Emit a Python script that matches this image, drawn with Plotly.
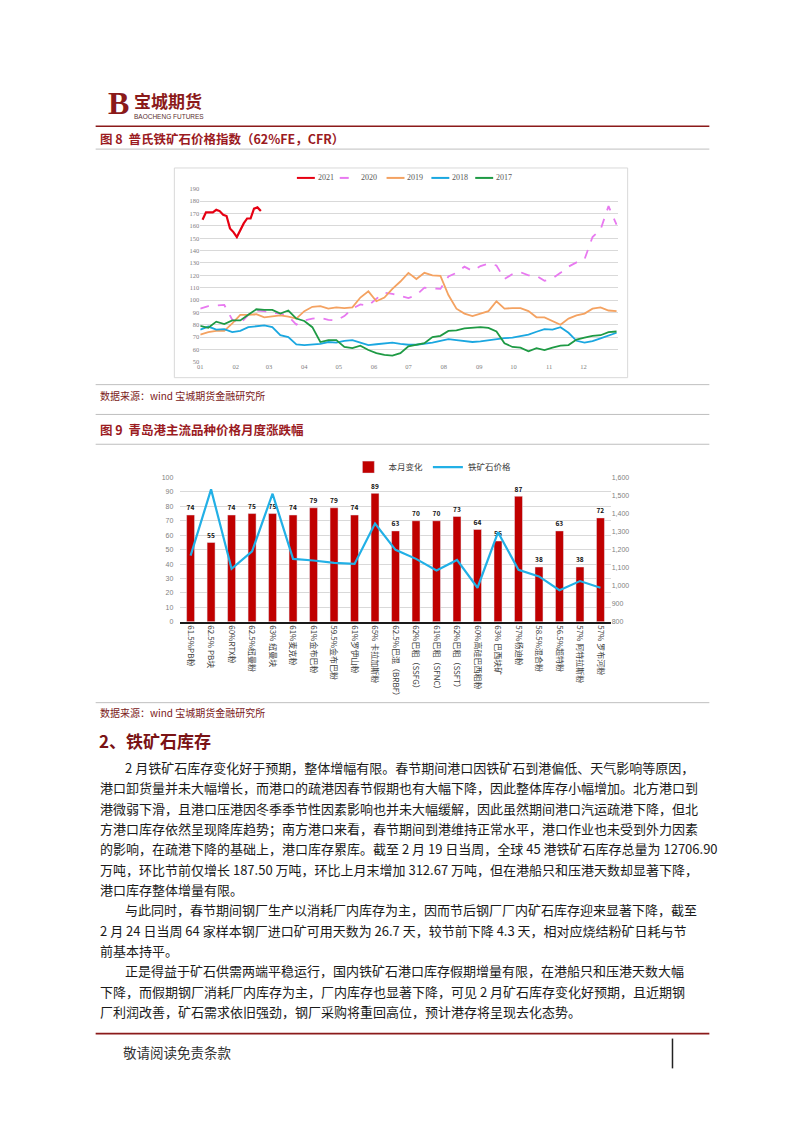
import plotly.graph_objects as go
import pandas as pd

W, H = 802, 1133


def px(x):
    return x / W


def py(y):
    return 1 - y / H


# ---------------- Chart 1 data (Platts 62% Fe index, by year) ----------------
week_dates = pd.date_range("2020-01-01", periods=53, freq="7D")
dates_2021 = pd.date_range("2020-01-03", periods=18, freq="3D")

s2021 = [165, 171, 171, 171, 173, 172, 169, 168, 158, 155, 151, 157, 162, 166, 166, 174, 175, 172]

s2020 = [93, 95, 95.5, 96, 84, 81, 88, 91.5, 91, 89.5, 89, 87, 80, 83.5, 85, 85.5, 84, 83.5,
         87, 93, 96.5, 95.5, 101, 106, 105, 103.5, 101.5, 104, 110, 109.5, 109, 119, 122, 127,
         123.5, 127.5, 129.5, 128, 117, 121, 122.5, 120, 119.5, 115.5, 117.5, 122, 127, 130.5,
         133, 151, 157, 176, 161]

s2019 = [72, 74, 75, 75, 81, 88, 88, 88.5, 86, 87, 87.5, 86.5, 85, 91, 94.5, 95, 93, 94,
         93.5, 94, 102, 107, 99, 102, 109, 115, 122, 117, 122, 120, 119.5, 104, 93, 89, 87,
         89, 91, 99, 93, 93.5, 93.5, 91, 86, 86, 83, 80, 85, 87.5, 89, 93, 94, 91.5, 91]

s2018 = [76, 78.5, 76, 76.5, 74, 75, 78, 78.5, 79.5, 78, 71.5, 70, 64, 63.5, 64, 64.5, 66,
         65.5, 67, 67.5, 65.5, 63.5, 64.2, 65, 65.5, 64.5, 63.8, 63.8, 64.5, 65.5, 67, 68.3,
         67.5, 66.6, 66, 66.5, 67.5, 68.5, 69.2, 69.5, 70.5, 72, 74.3, 76.5, 76, 78, 73.5, 67,
         65.5, 66.8, 69, 71.5, 73.5]

s2017 = [79, 77.5, 82.5, 80.5, 83.5, 83.5, 88, 92.5, 92, 92, 89, 91.5, 85, 83, 78, 66, 67.5,
         67.5, 62, 61, 63, 59.5, 57, 55.5, 55, 57, 62.5, 64, 65, 70, 71, 75, 75.5, 77, 77.5,
         78, 77.5, 74.5, 65, 62, 61.5, 58.5, 61, 59.5, 61.5, 63, 63.5, 68, 69.5, 71, 71.5, 74,
         74.5]

month_ticks = pd.date_range("2020-01-01", periods=12, freq="MS")
month_labels = ["01", "02", "03", "04", "05", "06", "07", "08", "09", "10", "11", "12"]

# ---------------- Chart 2 data (Qingdao port ore prices) ----------------
ore_names = ["61.5%PB粉", "62.5% PB块", "60%RTX粉", "62.5%纽曼粉", "63% 纽曼块", "61%麦克粉",
             "61%金布巴粉", "59.5%金布巴粉", "61%罗伊山粉", "65% 卡拉加斯粉", "62.5%巴混（BRBF）",
             "62%巴粗（SSFG）", "61%巴粗（SFNC）", "62%巴粗（SSFT）", "60%高硅巴西粗粉",
             "63% 巴西块矿", "57%杨迪粉", "58.5%混合粉", "56.5%超特粉", "57% 阿特拉斯粉",
             "57% 罗布河粉"]
monthly_change = [74, 55, 74, 75, 75, 74, 79, 79, 74, 89, 63, 70, 70, 73, 64, 56, 87, 38, 63, 38, 72]
ore_price = [1167, 1534, 1094, 1191, 1510, 1149, 1140, 1127, 1121, 1345, 1199, 1149, 1085,
             1143, 989, 1296, 1088, 1052, 975, 1026, 989]

RED_DARK = "#8B1A1A"
GRID = "#D9D9D9"
TICK = "#7F7F7F"
CJK = "Noto Sans CJK SC"

fig = go.Figure()

series = [
    ("2021", dates_2021, s2021, "#E60012", "solid", 2.2),
    ("2020", week_dates, s2020, "#E879F0", "dash", 1.8),
    ("2019", week_dates, s2019, "#F4A261", "solid", 1.8),
    ("2018", week_dates, s2018, "#1AA7E0", "solid", 1.8),
    ("2017", week_dates, s2017, "#1E9A44", "solid", 1.8),
]
for name, xs, ys, col, dash, w in series:
    fig.add_trace(go.Scatter(x=xs, y=ys, name=name, mode="lines",
                             line=dict(color=col, width=w, dash=dash),
                             xaxis="x", yaxis="y", showlegend=False))

fig.add_trace(go.Bar(x=ore_names, y=monthly_change, name="本月变化", marker_color="#C00000",
                     width=0.39, text=monthly_change, texttemplate="<b>%{y}</b>",
                     textposition="outside", textfont=dict(size=8, color="#111111"),
                     cliponaxis=False, xaxis="x2", yaxis="y2", legend="legend2"))
fig.add_trace(go.Scatter(x=ore_names, y=ore_price, name="铁矿石价格", mode="lines",
                         line=dict(color="#22B0E6", width=2.2),
                         xaxis="x2", yaxis="y3", legend="legend2"))

tickfont_small = dict(size=6.5, color=TICK, family="Liberation Serif")

fig.update_layout(
    width=W, height=H,
    margin=dict(l=0, r=0, t=0, b=0),
    paper_bgcolor="white", plot_bgcolor="white",
    font=dict(family=CJK),
    xaxis=dict(domain=[px(198), px(617)], anchor="y", type="date",
               range=["2020-01-01", "2020-12-31"], tickvals=month_ticks, ticktext=month_labels,
               tickfont=tickfont_small, showgrid=False, showline=False, ticks="", zeroline=False),
    yaxis=dict(domain=[py(360), py(186)], anchor="x", range=[50, 190], dtick=10,
               gridcolor=GRID, gridwidth=1, tickfont=tickfont_small, zeroline=False,
               showline=False, ticks=""),
    xaxis2=dict(domain=[px(178), px(610)], anchor="y2", type="category", tickangle=90,
                tickfont=dict(size=8, color="#404040", family=CJK), showline=True,
                linecolor="#1A1A1A", linewidth=1.5, ticks="", showgrid=False),
    yaxis2=dict(domain=[py(621.7), py(476.4)], anchor="x2", range=[0, 100], dtick=10,
                gridcolor=GRID, tickfont=dict(size=7, color=TICK, family="Liberation Sans"),
                zeroline=False, ticks="", ticklabelstandoff=6),
    yaxis3=dict(overlaying="y2", anchor="x2", side="right", range=[800, 1600], dtick=100,
                tickformat=",", showgrid=False, zeroline=False, ticks="",
                tickfont=dict(size=7, color=TICK, family="Liberation Sans")),
    legend2=dict(orientation="h", x=px(431), xanchor="center", y=py(466), yanchor="middle",
                 font=dict(size=8.5, color="#404040", family=CJK),
                 bgcolor="rgba(0,0,0,0)", itemwidth=30, traceorder="normal"),
    barmode="overlay",
)

shapes = []
# header rule
shapes.append(dict(type="line", xref="paper", yref="paper", x0=px(93), x1=px(709),
                   y0=py(123), y1=py(123), line=dict(color=RED_DARK, width=1.6)))
# gray separators
for yy in [146, 383, 413, 443, 703]:
    shapes.append(dict(type="line", xref="paper", yref="paper", x0=px(93), x1=px(709),
                       y0=py(yy), y1=py(yy), line=dict(color="#BFBFBF", width=1)))
# chart 1 frame
shapes.append(dict(type="rect", xref="paper", yref="paper", x0=px(172), x1=px(627),
                   y0=py(376), y1=py(165), line=dict(color="#D9D9D9", width=1)))
# footer rule and bar
shapes.append(dict(type="line", xref="paper", yref="paper", x0=px(93), x1=px(709),
                   y0=py(1036), y1=py(1036), line=dict(color=RED_DARK, width=1.6)))
shapes.append(dict(type="line", xref="paper", yref="paper", x0=px(672), x1=px(672),
                   y0=py(1041), y1=py(1071), line=dict(color="#222222", width=1.5)))

ann = []


def text(x, y, s, size=13, color="#1A1A1A", family=CJK, anchor="left"):
    ann.append(dict(x=px(x), y=py(y), xref="paper", yref="paper", text=s, showarrow=False,
                    xanchor=anchor, yanchor="middle", font=dict(size=size, color=color, family=family)))


# chart 1 legend (compact, drawn like the reference)
legend_x = [295, 338, 385, 430, 474]
for (name, xs, ys, col, dash, w), lx in zip(series, legend_x):
    shapes.append(dict(type="line", xref="paper", yref="paper", x0=px(lx), x1=px(lx + 18),
                       y0=py(175), y1=py(175), line=dict(color=col, width=2, dash=dash)))
    text(lx + 19, 175, name, size=8, color="#595959", family="Liberation Serif")

# logo
text(103, 100, "<b>B</b>", size=32, color=RED_DARK, family="Liberation Serif")
text(129, 97, "<b>宝城期货</b>", size=17, color=RED_DARK)
text(129, 113, "BAOCHENG FUTURES", size=6.5, color="#5A3030", family="Liberation Sans")

text(95, 135, "<b>图 8  普氏铁矿石价格指数（62%FE，CFR）</b>", size=12.5, color="#9B1B1F")
text(95, 394, "数据来源：wind 宝城期货金融研究所", size=10, color="#7B2020")
text(95, 428, "<b>图 9  青岛港主流品种价格月度涨跌幅</b>", size=12.5, color="#9B1B1F")
text(95, 713, "数据来源：wind 宝城期货金融研究所", size=10, color="#7B2020")
text(94, 741, "<b>2、铁矿石库存</b>", size=17, color="#7A1315")

body = [
    (120, "2 月铁矿石库存变化好于预期，整体增幅有限。春节期间港口因铁矿石到港偏低、天气影响等原因，"),
    (95, "港口卸货量并未大幅增长，而港口的疏港因春节假期也有大幅下降，因此整体库存小幅增加。北方港口到"),
    (95, "港微弱下滑，且港口压港因冬季季节性因素影响也并未大幅缓解，因此虽然期间港口汽运疏港下降，但北"),
    (95, "方港口库存依然呈现降库趋势；南方港口来看，春节期间到港维持正常水平，港口作业也未受到外力因素"),
    (95, "的影响，在疏港下降的基础上，港口库存累库。截至 2 月 19 日当周，全球 45 港铁矿石库存总量为 12706.90"),
    (95, "万吨，环比节前仅增长 187.50 万吨，环比上月末增加 312.67 万吨，但在港船只和压港天数却显著下降，"),
    (95, "港口库存整体增量有限。"),
    (120, "与此同时，春节期间钢厂生产以消耗厂内库存为主，因而节后钢厂厂内矿石库存迎来显著下降，截至"),
    (95, "2 月 24 日当周 64 家样本钢厂进口矿可用天数为 26.7 天，较节前下降 4.3 天，相对应烧结粉矿日耗与节"),
    (95, "前基本持平。"),
    (120, "正是得益于矿石供需两端平稳运行，国内铁矿石港口库存假期增量有限，在港船只和压港天数大幅"),
    (95, "下降，而假期钢厂消耗厂内库存为主，厂内库存也显著下降，可见 2 月矿石库存变化好预期，且近期钢"),
    (95, "厂利润改善，矿石需求依旧强劲，钢厂采购将重回高位，预计港存将呈现去化态势。"),
]
for i, (x0, line) in enumerate(body):
    text(x0, 768 + i * 20.5, line, size=13, color="#1A1A1A")

text(118, 1055, "敬请阅读免责条款", size=13.5, color="#333333")

fig.update_layout(shapes=shapes, annotations=ann)
fig.write_html("out.html")
